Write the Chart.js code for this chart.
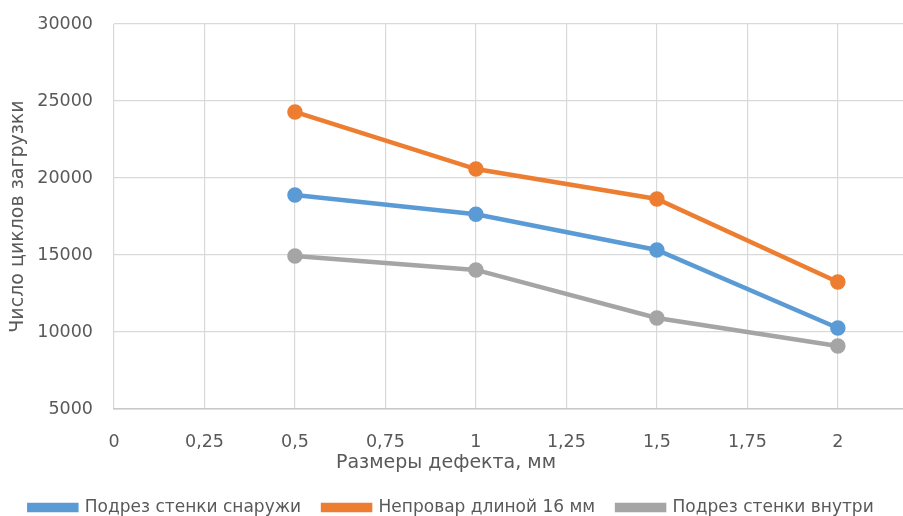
<!DOCTYPE html>
<html>
<head>
<meta charset="utf-8">
<script src="https://cdn.jsdelivr.net/npm/chart.js@4"></script>
<style>
  html, body { margin: 0; padding: 0; background: #fff; overflow: hidden; }
  #wrap { width: 903px; height: 516px; position: relative; }
</style>
</head>
<body>
<div id="wrap"><canvas id="chart"></canvas></div>
<script>
const sizes = [0.5, 1, 1.5, 2];
const outsideCut = [18900, 17650, 15330, 10260];
const lackOfFusion = [24290, 20580, 18640, 13250];
const insideCut = [14930, 14030, 10910, 9090];
const seriesNames = ['Подрез стенки снаружи', 'Непровар длиной 16 мм', 'Подрез стенки внутри'];
const yTicks = [5000, 10000, 15000, 20000, 25000, 30000];

const FONT = "'DejaVu Sans', sans-serif";
const TEXT = '#595959';
const LEGEND_BOX = 47;

function pts(vals) {
  return sizes.map((s, i) => ({ x: s, y: vals[i] }));
}

function ds(label, vals, color) {
  return {
    label: label,
    data: pts(vals),
    borderColor: color,
    backgroundColor: color,
    borderWidth: 4.5,
    pointRadius: 5.5,
    pointBackgroundColor: color,
    pointBorderColor: color,
    tension: 0
  };
}

// x title (placed like in the original) + marker on legend line
const extras = {
  id: 'extras',
  afterDraw(chart) {
    const ctx = chart.ctx;
    ctx.save();
    ctx.fillStyle = TEXT;
    ctx.font = '19px ' + FONT;
    ctx.textAlign = 'center';
    ctx.textBaseline = 'middle';
    ctx.fillText('Размеры дефекта, мм', 446, 463);
    chart.legend.legendHitBoxes.forEach((box, i) => {
      ctx.fillStyle = chart.data.datasets[i].borderColor;
      ctx.beginPath();
      ctx.arc(box.left + LEGEND_BOX / 2, box.top + box.height / 2, 4, 0, Math.PI * 2);
      ctx.fill();
    });
    ctx.restore();
  }
};

new Chart(document.getElementById('chart'), {
  type: 'line',
  data: {
    datasets: [
      ds(seriesNames[0], outsideCut, '#5B9BD5'),
      ds(seriesNames[1], lackOfFusion, '#ED7D31'),
      ds(seriesNames[2], insideCut, '#A5A5A5')
    ]
  },
  options: {
    responsive: true,
    maintainAspectRatio: false,
    animation: false,
    layout: { autoPadding: false, padding: { left: 0, right: 0, top: 24, bottom: -10 } },
    plugins: {
      legend: {
        position: 'bottom',
        labels: {
          color: TEXT,
          font: { family: FONT, size: 17 },
          boxWidth: LEGEND_BOX,
          boxHeight: 5,
          padding: 22
        }
      },
      tooltip: { enabled: false }
    },
    scales: {
      x: {
        type: 'linear',
        min: 0,
        max: 2.18,
        ticks: {
          stepSize: 0.25,
          includeBounds: false,
          color: TEXT,
          font: { family: FONT, size: 17.5 },
          padding: 23,
          callback: v => String(v).replace('.', ',')
        },
        grid: { color: '#d9d9d9', lineWidth: 1.2, drawTicks: false },
        border: { display: true, color: '#c8c8c8', width: 1.5 },
        afterFit: s => { s.height = 68; s.paddingRight = 0; s.paddingLeft = 0; }
      },
      y: {
        min: 5000,
        max: 30000,
        afterBuildTicks: s => { s.ticks = yTicks.map(v => ({ value: v })); },
        ticks: {
          color: TEXT,
          font: { family: FONT, size: 17.5 },
          padding: 21,
          callback: v => String(v)
        },
        grid: { color: '#d9d9d9', lineWidth: 1.2, drawTicks: false },
        border: { display: false },
        title: {
          display: true,
          text: 'Число циклов загрузки',
          color: TEXT,
          font: { family: FONT, size: 19 },
          padding: { top: 7, bottom: 0 }
        },
        afterFit: s => { s.width = 114; s.paddingTop = 0; s.paddingBottom = 0; }
      }
    }
  },
  plugins: [extras]
});
</script>
</body>
</html>
